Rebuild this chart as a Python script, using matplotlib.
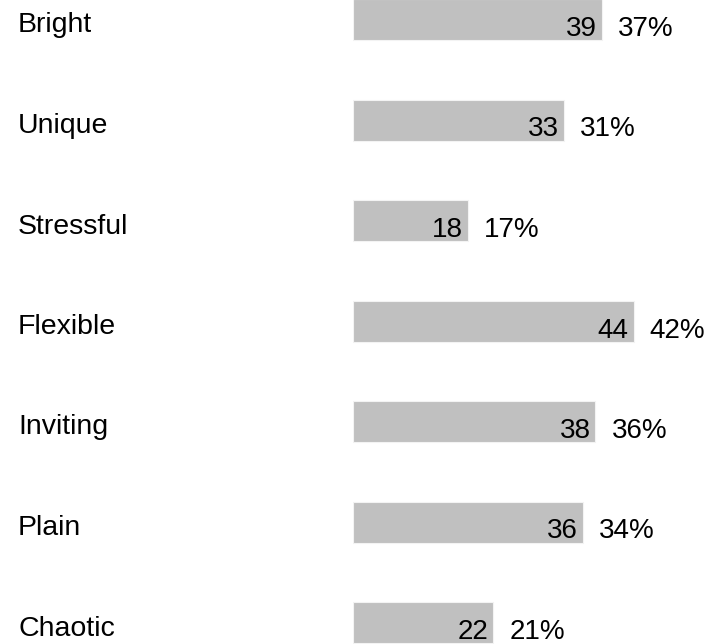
import matplotlib.pyplot as plt
import matplotlib.transforms as mtransforms

# data
labels = ['Bright', 'Unique', 'Stressful', 'Flexible', 'Inviting', 'Plain', 'Chaotic']
counts = [39, 33, 18, 44, 38, 36, 22]
percents = [37, 31, 17, 42, 36, 34, 21]

plt.rcParams['font.family'] = ['Liberation Sans', 'DejaVu Sans']

W, H = 713, 644
fig = plt.figure(figsize=(W / 100, H / 100), dpi=100)
x0 = 353
ax = fig.add_axes([x0 / W, 0, (W - x0) / W, 1])

px_per_unit = 6.38
row = 100.5
top_center = 19.5
ys = list(range(len(labels)))

ax.barh(ys, counts, height=41 / row, color='#c0c0c0', edgecolor='#f3f3f3', linewidth=0.8)
ax.set_xlim(0, (W - x0) / px_per_unit)
ax.set_ylim((H - top_center) / row, -top_center / row)
ax.axis('off')

val_off = mtransforms.offset_copy(ax.transData, fig=fig, x=-5, y=-16.5, units='dots')
pct_off = mtransforms.offset_copy(ax.transData, fig=fig, x=16, y=-16.5, units='dots')
lab_tr = mtransforms.blended_transform_factory(fig.transFigure, ax.transData)
lab_off = mtransforms.offset_copy(lab_tr, fig=fig, x=0, y=-13, units='dots')

for y, c, p, lab in zip(ys, counts, percents, labels):
    ax.text(c, y, str(c), transform=val_off, ha='right', va='baseline', fontsize=20, color='black')
    ax.text(c, y, f'{p}%', transform=pct_off, ha='left', va='baseline', fontsize=20, color='black', clip_on=False)
    fig.text(18 / W, y, lab, transform=lab_off, ha='left', va='baseline', fontsize=20.5, color='black')

fig.savefig('out.png', dpi=100)
